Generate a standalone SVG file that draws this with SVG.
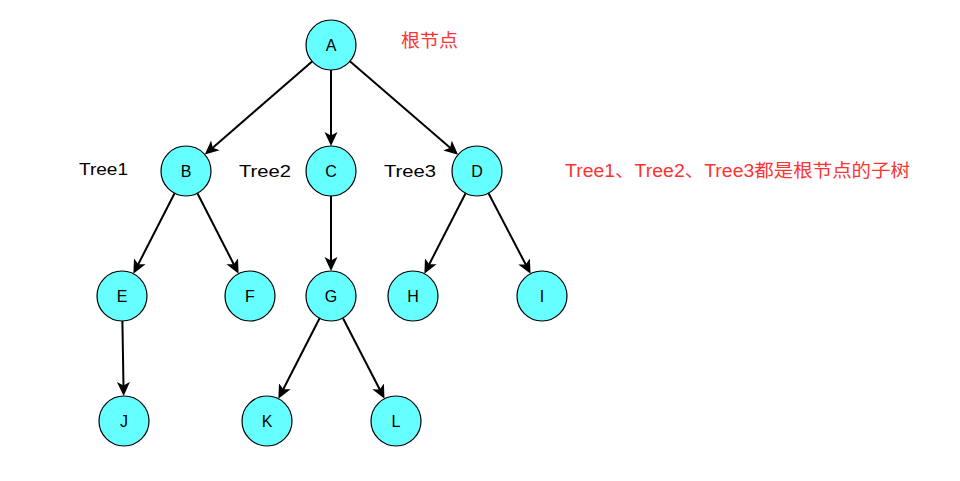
<svg xmlns="http://www.w3.org/2000/svg" width="960" height="481" viewBox="0 0 960 481">
<style>
.node circle{fill:#66FFFF;stroke:#000;stroke-width:1.2}
.node text{font-family:"Liberation Sans",Arial,sans-serif;font-size:16px;text-anchor:middle;dominant-baseline:central;fill:#000}
.lbl{font-family:"Liberation Sans",Arial,sans-serif;font-size:17px;fill:#000;dominant-baseline:central}
.red{font-family:"Liberation Sans","Noto Sans CJK SC",sans-serif;font-size:18px;fill:#FF3333;dominant-baseline:central}
#edges line{stroke:#000;stroke-width:2;marker-end:url(#arr)}
</style>
<defs>
<marker id="arr" markerUnits="userSpaceOnUse" markerWidth="16" markerHeight="16" refX="5" refY="7" orient="auto">
<path d="M0,0.5 L14,7 L0,13.5 L3.5,7 z" fill="#000"/>
</marker>
</defs>
<rect width="960" height="481" fill="#fff"/>
<g id="edges">
<line x1="312.1" y1="61.4" x2="211.6" y2="148.7"/>
<line x1="331" y1="70" x2="331" y2="137"/>
<line x1="349.9" y1="61.3" x2="451.3" y2="148.8"/>
<line x1="174.6" y1="193.3" x2="137.5" y2="265.7"/>
<line x1="197.4" y1="193.3" x2="234.5" y2="265.7"/>
<line x1="331" y1="196" x2="331" y2="262"/>
<line x1="465.6" y1="193.3" x2="428.5" y2="265.7"/>
<line x1="488.5" y1="193.2" x2="526.4" y2="265.8"/>
<line x1="122.4" y1="321" x2="123.5" y2="387"/>
<line x1="319.6" y1="318.3" x2="282.5" y2="390.7"/>
<line x1="343.0" y1="318.2" x2="380.4" y2="390.8"/>
</g>
<g id="A" class="node"><circle cx="331" cy="45" r="25"/><text x="331" y="45">A</text></g>
<g id="B" class="node"><circle cx="186" cy="171" r="25"/><text x="186" y="171">B</text></g>
<g id="C" class="node"><circle cx="331" cy="171" r="25"/><text x="331" y="171">C</text></g>
<g id="D" class="node"><circle cx="477" cy="171" r="25"/><text x="477" y="171">D</text></g>
<g id="E" class="node"><circle cx="122" cy="296" r="25"/><text x="122" y="296">E</text></g>
<g id="F" class="node"><circle cx="250" cy="296" r="25"/><text x="250" y="296">F</text></g>
<g id="G" class="node"><circle cx="331" cy="296" r="25"/><text x="331" y="296">G</text></g>
<g id="H" class="node"><circle cx="413" cy="296" r="25"/><text x="413" y="296">H</text></g>
<g id="I" class="node"><circle cx="542" cy="296" r="25"/><text x="542" y="296">I</text></g>
<g id="J" class="node"><circle cx="124" cy="421" r="25"/><text x="124" y="421">J</text></g>
<g id="K" class="node"><circle cx="267" cy="421" r="25"/><text x="267" y="421">K</text></g>
<g id="L" class="node"><circle cx="396" cy="421" r="25"/><text x="396" y="421">L</text></g>
<g id="labels">
<text class="lbl" x="79" y="169" textLength="49" lengthAdjust="spacingAndGlyphs">Tree1</text>
<text class="lbl" x="239" y="171" textLength="52" lengthAdjust="spacingAndGlyphs">Tree2</text>
<text class="lbl" x="384" y="171" textLength="52" lengthAdjust="spacingAndGlyphs">Tree3</text>
<text class="red" x="401" y="41" textLength="57" lengthAdjust="spacingAndGlyphs">根节点</text>
<text class="red" x="565" y="171" textLength="345" lengthAdjust="spacingAndGlyphs">Tree1、Tree2、Tree3都是根节点的子树</text>
</g>
</svg>
